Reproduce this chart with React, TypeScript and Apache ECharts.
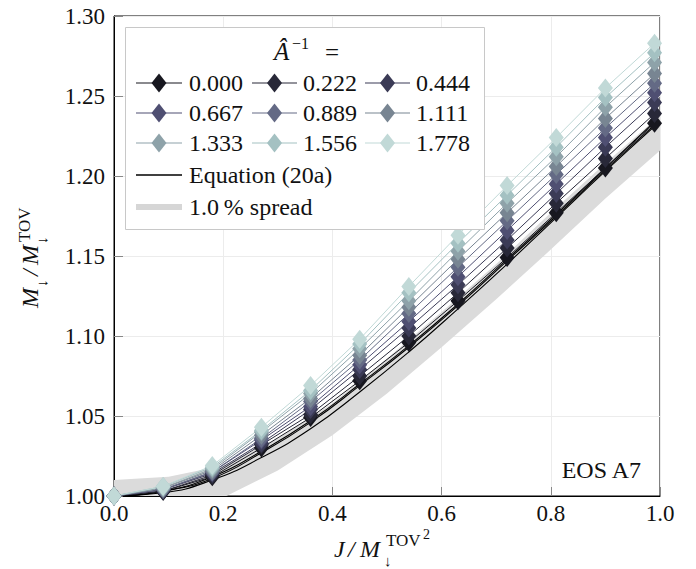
import React, { useEffect, useRef } from 'react';
import * as echarts from 'echarts';

// ---------- data ----------
const xValues = [0, 0.09, 0.18, 0.27, 0.36, 0.45, 0.54, 0.63, 0.72, 0.81, 0.9, 0.99];
const invALabels = ['0.000', '0.222', '0.444', '0.667', '0.889', '1.111', '1.333', '1.556', '1.778'];
const seriesColors = ['#17171f', '#282838', '#3b3b56', '#4f4f72', '#646a85', '#788592', '#8ea2a9', '#a4c1c2', '#c1d9d7'];

const m000 = [1.0, 1.003, 1.012, 1.030, 1.049, 1.072, 1.096, 1.122, 1.149, 1.177, 1.205, 1.233];
const m222 = [1.0, 1.003, 1.013, 1.032, 1.051, 1.075, 1.100, 1.127, 1.155, 1.183, 1.211, 1.239];
const m444 = [1.0, 1.004, 1.014, 1.033, 1.054, 1.079, 1.105, 1.132, 1.160, 1.189, 1.218, 1.246];
const m667 = [1.0, 1.004, 1.015, 1.035, 1.056, 1.082, 1.109, 1.137, 1.166, 1.195, 1.224, 1.252];
const m889 = [1.0, 1.004, 1.015, 1.036, 1.059, 1.085, 1.114, 1.143, 1.172, 1.201, 1.230, 1.258];
const m1111 = [1.0, 1.005, 1.016, 1.038, 1.061, 1.088, 1.118, 1.148, 1.177, 1.206, 1.236, 1.264];
const m1333 = [1.0, 1.005, 1.017, 1.040, 1.064, 1.092, 1.122, 1.153, 1.183, 1.212, 1.243, 1.271];
const m1556 = [1.0, 1.006, 1.018, 1.041, 1.066, 1.095, 1.127, 1.158, 1.188, 1.218, 1.249, 1.277];
const m1778 = [1.0, 1.006, 1.019, 1.043, 1.069, 1.098, 1.131, 1.163, 1.194, 1.224, 1.255, 1.283];
const seriesValues = [m000, m222, m444, m667, m889, m1111, m1333, m1556, m1778];

// Equation (20a) curves
const eq1 = [1.0, 1.002, 1.010, 1.024, 1.042, 1.065, 1.090, 1.117, 1.145, 1.174, 1.203, 1.231];
const eq2 = [1.0, 1.003, 1.011, 1.027, 1.046, 1.069, 1.093, 1.119, 1.147, 1.175, 1.204, 1.232];
const eq3 = [1.0, 1.003, 1.012, 1.028, 1.047, 1.070, 1.094, 1.120, 1.148, 1.176, 1.205, 1.234];
const eqValues = [eq1, eq2, eq3];

// 1.0 % spread band
const bandX = [0, 0.1, 0.2, 0.3, 0.4, 0.5, 0.6, 0.7, 0.8, 0.9, 1.0];
const bandLower = [0.990, 0.991, 0.999, 1.016, 1.038, 1.064, 1.093, 1.123, 1.154, 1.186, 1.216];
const bandUpper = [1.010, 1.012, 1.019, 1.036, 1.058, 1.086, 1.115, 1.145, 1.177, 1.208, 1.238];

const xTicks = [0, 0.2, 0.4, 0.6, 0.8, 1.0];
const yTicks = [1.0, 1.05, 1.1, 1.15, 1.2, 1.25, 1.3];

const SERIF = "'Liberation Serif', 'DejaVu Serif', serif";
const TXT = '#111';

function txt(text: string, x: number, y: number, size: number, extra: any = {}) {
  return {
    type: 'text',
    z: 100,
    style: {
      text,
      x,
      y,
      fontSize: size,
      fontFamily: SERIF,
      fill: TXT,
      verticalAlign: 'middle',
      textAlign: 'left',
      ...extra,
    },
  };
}

function diamond(cx: number, cy: number, color: string) {
  return {
    type: 'polygon',
    z: 101,
    shape: { points: [[cx, cy - 9.5], [cx + 7.5, cy], [cx, cy + 9.5], [cx - 7.5, cy]] },
    style: { fill: color },
  };
}

function hline(x1: number, x2: number, y: number, color: string, w: number) {
  return {
    type: 'line',
    z: 100,
    shape: { x1, y1: y, x2, y2: y },
    style: { stroke: color, lineWidth: w },
  };
}

export default function App() {
  const ref = useRef<HTMLDivElement>(null);

  useEffect(() => {
    document.body.style.margin = '0';
    const chart = echarts.init(ref.current!, undefined, { renderer: 'svg' });

    const pairs = (ys: number[]) => xValues.map((x, i) => [x, ys[i]]);

    const series: any[] = [];
    series.push({
      type: 'custom',
      name: 'spread',
      data: [0],
      clip: true,
      silent: true,
      z: 1,
      renderItem: (_p: any, api: any) => {
        const up = bandX.map((x, i) => api.coord([x, bandUpper[i]]));
        const lo = bandX.map((x, i) => api.coord([x, bandLower[i]])).reverse();
        return {
          type: 'polygon',
          shape: { points: up.concat(lo) },
          style: { fill: '#dbdbdb', stroke: 'none' },
        };
      },
    });
    eqValues.forEach((ys, k) => {
      series.push({
        type: 'line',
        name: 'eq' + k,
        data: pairs(ys),
        smooth: true,
        symbol: 'none',
        lineStyle: { color: '#000', width: 1.1 },
        z: 2,
      });
    });
    seriesValues.forEach((ys, k) => {
      series.push({
        type: 'line',
        name: invALabels[k],
        data: pairs(ys),
        symbol: 'diamond',
        symbolSize: [15, 19],
        lineStyle: { color: seriesColors[k], width: 1 },
        itemStyle: { color: seriesColors[k] },
        z: 3,
      });
    });

    // legend graphic
    const legend: any[] = [];
    legend.push({
      type: 'rect',
      z: 99,
      shape: { x: 125.5, y: 27.5, width: 359, height: 202 },
      style: { fill: '#fff', stroke: '#c8c8c8', lineWidth: 1 },
    });
    legend.push(txt('Â', 274, 51, 25, { fontStyle: 'italic' }));
    legend.push(txt('−1', 292, 43, 16));
    legend.push(txt('=', 325, 52, 25));
    const rowsY = [83, 113, 143];
    const colLine = [[136, 182], [252, 297], [365, 410]];
    const colLabel = [189, 303, 416];
    invALabels.forEach((lab, k) => {
      const r = Math.floor(k / 3);
      const c = k % 3;
      const y = rowsY[r];
      legend.push(hline(colLine[c][0], colLine[c][1], y, seriesColors[k], 1.2));
      legend.push(diamond((colLine[c][0] + colLine[c][1]) / 2, y, seriesColors[k]));
      legend.push(txt(lab, colLabel[c], y, 24));
    });
    legend.push(hline(136, 182, 175, '#000', 1.3));
    legend.push(txt('Equation (20a)', 189, 175, 24));
    legend.push(hline(136, 182, 207, '#d6d6d6', 6));
    legend.push(txt('1.0\u2009% spread', 189, 207, 24));

    // EOS label
    legend.push(txt('EOS A7', 641, 470, 24, { textAlign: 'right' }));

    // x-axis title
    legend.push(txt('J', 334, 549, 24, { fontStyle: 'italic' }));
    legend.push(txt('/', 348, 549, 24, { fontStyle: 'italic' }));
    legend.push(txt('M', 360, 549, 24, { fontStyle: 'italic' }));
    legend.push(txt('↓', 384, 561, 15));
    legend.push(txt('TOV', 386, 540, 17));
    legend.push(txt('2', 423, 534, 14));

    // y-axis title (rotated)
    legend.push({
      type: 'group',
      x: 38,
      y: 308,
      rotation: Math.PI / 2,
      z: 100,
      children: [
        txt('M', 0, -8, 24, { fontStyle: 'italic' }),
        txt('↓', 21, 4, 15),
        txt('/', 32, -8, 24, { fontStyle: 'italic' }),
        txt('M', 43, -8, 24, { fontStyle: 'italic' }),
        txt('↓', 64, 4, 15),
        txt('TOV', 66, -14, 17),
      ],
    });

    const option: any = {
      animation: false,
      backgroundColor: '#fff',
      textStyle: { fontFamily: SERIF },
      grid: {
        left: 114,
        right: 36,
        top: 16,
        bottom: 73,
        show: true,
        borderColor: '#000',
        borderWidth: 1,
        backgroundColor: 'transparent',
      },
      xAxis: {
        type: 'value',
        min: xTicks[0],
        max: xTicks[xTicks.length - 1],
        interval: 0.2,
        axisLine: { show: true, lineStyle: { color: '#000', width: 1 } },
        axisTick: { show: true, inside: true, length: 9, lineStyle: { color: '#888' } },
        axisLabel: {
          formatter: (v: number) => v.toFixed(1),
          fontFamily: SERIF,
          fontSize: 23,
          color: TXT,
          margin: 6,
        },
        splitLine: { show: true, lineStyle: { color: '#ececec', width: 1 } },
      },
      yAxis: {
        type: 'value',
        min: yTicks[0],
        max: yTicks[yTicks.length - 1],
        interval: 0.05,
        axisLine: { show: true, lineStyle: { color: '#000', width: 1 } },
        axisTick: { show: true, inside: true, length: 9, lineStyle: { color: '#888' } },
        axisLabel: {
          formatter: (v: number) => v.toFixed(2),
          fontFamily: SERIF,
          fontSize: 23,
          color: TXT,
          margin: 9,
        },
        splitLine: { show: true, lineStyle: { color: '#ececec', width: 1 } },
      },
      series,
      graphic: legend,
    };

    chart.setOption(option);
    return () => chart.dispose();
  }, []);

  return (
    <div
      ref={ref}
      style={{ width: 696, height: 569, position: 'fixed', left: 0, top: 0, background: '#fff' }}
    />
  );
}
